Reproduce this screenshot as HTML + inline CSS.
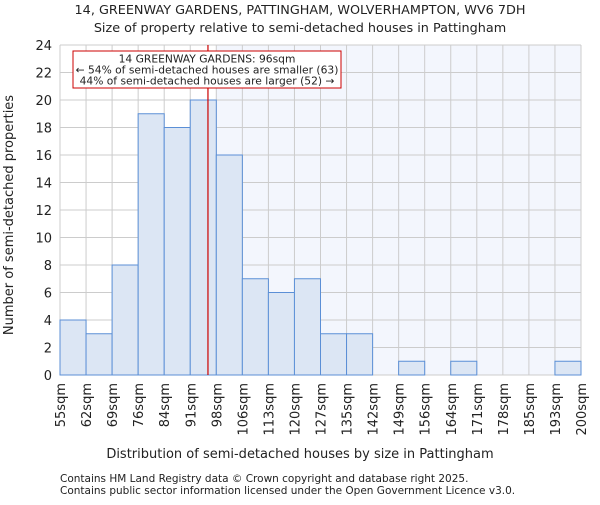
<!DOCTYPE html>
<html><head><meta charset="utf-8"><style>body{margin:0;background:#fff}svg{font-family:"DejaVu Sans","Liberation Sans",sans-serif}</style></head>
<body>
<svg id="c" width="600" height="500"></svg>
<script>
const categories=["55sqm","62sqm","69sqm","76sqm","84sqm","91sqm","98sqm","106sqm","113sqm","120sqm","127sqm","135sqm","142sqm","149sqm","156sqm","164sqm","171sqm","178sqm","185sqm","193sqm","200sqm"];
const counts=[4,3,8,19,18,20,16,7,6,7,3,3,0,1,0,1,0,0,0,1];
const yTicks=[0,2,4,6,8,10,12,14,16,18,20,22,24];
const markerBin=5.68;
const L=60,R=581,T=45,B=375,yMax=24;
const n=counts.length,bw=(R-L)/n;
const x=i=>L+i*bw, y=v=>B-v/yMax*(B-T);
const s=document.getElementById('c'),NS='http://www.w3.org/2000/svg';
function el(t,a,txt){const e=document.createElementNS(NS,t);for(const k in a)e.setAttribute(k,a[k]);if(txt!==undefined)e.textContent=txt;s.appendChild(e);return e;}
let e;
e=el('rect',{x:x(Math.ceil(markerBin)),y:T,width:R-x(Math.ceil(markerBin)),height:B-T,fill:'#f3f6fd'});


for(const t of yTicks){e=el('line',{x1:L,x2:R,y1:y(t),y2:y(t),stroke:'#cccccc'});


e=el('text',{x:L-8,y:y(t)+5,'text-anchor':'end','font-size':13,fill:'#222'},t);

}
for(let i=0;i<=n;i++){e=el('line',{x1:x(i),x2:x(i),y1:T,y2:B,stroke:'#cccccc'});


e=el('text',{transform:`translate(${x(i)+5},${B+8}) rotate(-90)`,'text-anchor':'end','font-size':13,fill:'#222'},categories[i]);

}
counts.forEach((v,i)=>{if(v>0){e=el('rect',{x:x(i),y:y(v),width:bw,height:B-y(v),fill:'#dce6f4',stroke:'#5b8fd6','stroke-width':1});

}});
e=el('line',{x1:x(markerBin),x2:x(markerBin),y1:T,y2:B,stroke:'#cc0000','stroke-width':1.2});


e=el('rect',{x:73,y:51,width:268,height:37,fill:'#fff',stroke:'#cc0000'});


["14 GREENWAY GARDENS: 96sqm","← 54% of semi-detached houses are smaller (63)","44% of semi-detached houses are larger (52) →"].forEach((t,i)=>{e=el('text',{x:207,y:62.5+i*11,'text-anchor':'middle','font-size':10.7,fill:'#222'},t);

});
e=el('text',{x:300,y:14,'text-anchor':'middle','font-size':12.8,fill:'#222'},"14, GREENWAY GARDENS, PATTINGHAM, WOLVERHAMPTON, WV6 7DH");


e=el('text',{x:300,y:32,'text-anchor':'middle','font-size':12.8,fill:'#222'},"Size of property relative to semi-detached houses in Pattingham");


e=el('text',{x:300,y:458,'text-anchor':'middle','font-size':13,fill:'#222'},"Distribution of semi-detached houses by size in Pattingham");


e=el('text',{transform:'translate(13,215) rotate(-90)','text-anchor':'middle','font-size':13,fill:'#222'},"Number of semi-detached properties");


e=el('text',{x:60,y:482,'font-size':10.5,fill:'#222'},"Contains HM Land Registry data © Crown copyright and database right 2025.");


e=el('text',{x:60,y:494,'font-size':10.5,fill:'#222'},"Contains public sector information licensed under the Open Government Licence v3.0.");


</script>
</body></html>
